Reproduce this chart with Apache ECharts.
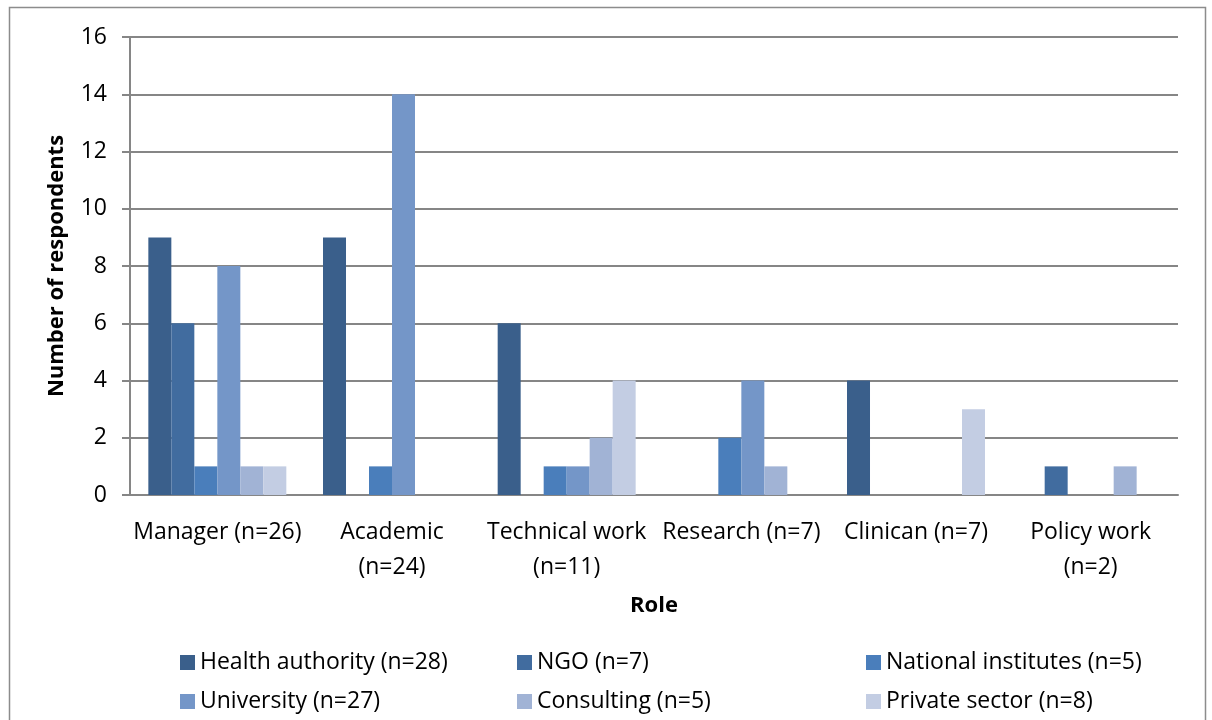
<!doctype html>
<html>
<head>
  <meta charset="UTF-8" />
  <title>Respondents by role</title>
  <script src="https://cdn.jsdelivr.net/npm/echarts@6/dist/echarts.min.js"></script>
  <style>
    html, body { margin: 0; padding: 0; background: #fff; }
    #chart { width: 1212px; height: 720px; }
  </style>
</head>
<body>
  <div id="chart"></div>
  <script>
    const roles = ['Manager (n=26)', 'Academic\n(n=24)', 'Technical work\n(n=11)', 'Research (n=7)', 'Clinican (n=7)', 'Policy work\n(n=2)'];
    const seriesNames = ['Health authority (n=28)', 'NGO (n=7)', 'National institutes (n=5)', 'University (n=27)', 'Consulting (n=5)', 'Private sector (n=8)'];
    const healthAuthority = [9, 9, 6, 0, 4, 0];
    const ngo = [6, 0, 0, 0, 0, 1];
    const nationalInstitutes = [1, 1, 1, 2, 0, 0];
    const university = [8, 14, 1, 4, 0, 0];
    const consulting = [1, 0, 2, 1, 0, 1];
    const privateSector = [1, 0, 4, 0, 3, 0];
    const yTicks = [0, 2, 4, 6, 8, 10, 12, 14, 16];

    const values = [healthAuthority, ngo, nationalInstitutes, university, consulting, privateSector];
    const colors = ['#3a5f8b', '#416c9f', '#4a7ebb', '#7496c8', '#a1b3d5', '#c3cde3'];
    const font = '"Open Sans", Lato, sans-serif';
    const fs = 23;

    const chart = echarts.init(document.getElementById('chart'));
    window.addEventListener('resize', () => { chart.resize() });

    const legendCol = (x, names) => ({
      orient: 'vertical', left: x, top: 646, itemGap: 16,
      itemWidth: 15, itemHeight: 15, icon: 'rect',
      data: names,
      textStyle: { fontFamily: font, fontSize: fs, color: '#000' },
    });

    chart.setOption({
      animation: false,
      textStyle: { fontFamily: font },
      graphic: [{
        type: 'rect', shape: { x: 9.5, y: 7.5, width: 1196, height: 720 },
        style: { fill: 'none', stroke: '#8c8c8c', lineWidth: 1.5 }, silent: true,
      }],
      legend: [
        legendCol(175, [seriesNames[0], seriesNames[3]]),
        legendCol(512, [seriesNames[1], seriesNames[4]]),
        legendCol(861, [seriesNames[2], seriesNames[5]]),
      ],
      grid: { left: 130, right: 34, top: 37, bottom: 225, containLabel: false },
      xAxis: {
        type: 'category', data: roles,
        name: 'Role', nameLocation: 'middle', nameGap: 100,
        nameTextStyle: { fontFamily: font, fontSize: fs - 1, fontWeight: 'bold', color: '#000' },
        axisLine: { lineStyle: { color: '#868686', width: 2 } },
        axisTick: { show: false },
        axisLabel: { fontFamily: font, fontSize: fs, color: '#000', margin: 20, lineHeight: 35, interval: 0 },
      },
      yAxis: {
        type: 'value', min: 0, max: 16, interval: 2,
        name: 'Number of respondents', nameLocation: 'middle', nameGap: 62, nameRotate: 90,
        nameTextStyle: { fontFamily: font, fontSize: fs - 1, fontWeight: 'bold', color: '#000' },
        axisLine: { show: true, lineStyle: { color: '#868686', width: 2 } },
        axisTick: { show: true, length: 8, lineStyle: { color: '#868686', width: 2 } },
        splitLine: { lineStyle: { color: '#868686', width: 2 } },
        axisLabel: {
          fontFamily: font, fontSize: fs, color: '#000', margin: 23,
          formatter: v => yTicks.includes(v) ? String(v) : '',
        },
      },
      series: values.map((d, i) => ({
        name: seriesNames[i], type: 'bar', data: d,
        barGap: '0%', barCategoryGap: '21%',
        itemStyle: { color: colors[i] },
      })),
    });
  </script>
</body>
</html>
